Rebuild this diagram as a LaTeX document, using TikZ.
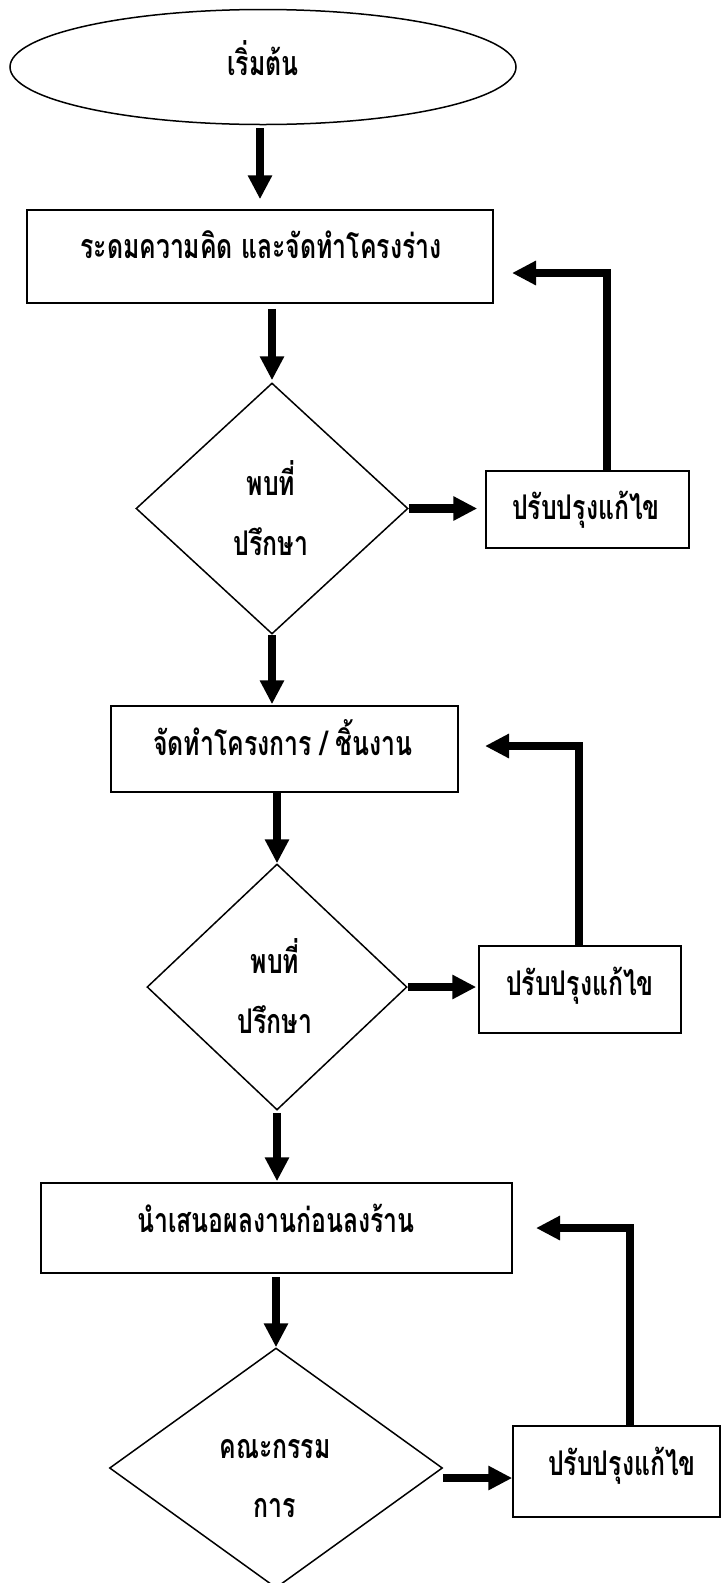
\documentclass[tikz,border=0pt]{standalone}
\usepackage{fontspec}
\newfontfamily\thaifont[Script=Thai,FakeStretch=0.73]{Loma}
\usetikzlibrary{shapes.geometric,arrows.meta}
\begin{document}
\begin{tikzpicture}[x=1pt,y=-1pt,
  shp/.style={draw,line width=1.5pt,inner sep=0pt},
  boxn/.style={shp,rectangle},
  dia/.style={shp,diamond},
  lbl/.style={font=\thaifont\bfseries\fontsize{34}{36}\selectfont,inner sep=0pt,anchor=base},
  arr/.style={line width=8.5pt,-{Triangle[length=24pt,width=23pt]},line join=miter}]
\useasboundingbox (0,0) rectangle (725,1583);
% shapes
\node[shp,ellipse,minimum width=506pt,minimum height=115pt] (start) at (263,67) {};
\node[boxn,minimum width=466pt,minimum height=93pt] (b1) at (260,256.5) {};
\node[dia,minimum width=272pt,minimum height=251pt] (d1) at (272,508.5) {};
\node[boxn,minimum width=203pt,minimum height=77pt] (p1) at (587.5,509.5) {};
\node[boxn,minimum width=347pt,minimum height=86pt] (b2) at (284.5,749) {};
\node[dia,minimum width=260pt,minimum height=246pt] (d2) at (277,987) {};
\node[boxn,minimum width=202pt,minimum height=87pt] (p2) at (580,989.5) {};
\node[boxn,minimum width=471pt,minimum height=90pt] (b3) at (276.5,1228) {};
\node[dia,minimum width=333pt,minimum height=240pt] (d3) at (276,1468) {};
\node[boxn,minimum width=207pt,minimum height=91pt] (p3) at (616.5,1471.5) {};
% labels
\node[lbl] (t0) at (263,75) {เริ่มต้น};
\node[lbl] (t1) at (261,258) {ระดมความคิด และจัดทำโครงร่าง};
\node[lbl] (t2a) at (271,495) {พบที่};
\node[lbl] (t2b) at (271,555) {ปรึกษา};
\node[lbl] (t3) at (586,519) {ปรับปรุงแก้ไข};
\node[lbl] (t4) at (283,755) {จัดทำโครงการ / ชิ้นงาน};
\node[lbl] (t5a) at (275,973) {พบที่};
\node[lbl] (t5b) at (275,1033) {ปรึกษา};
\node[lbl] (t6) at (580,995) {ปรับปรุงแก้ไข};
\node[lbl] (t7) at (276,1232) {นำเสนอผลงานก่อนลงร้าน};
\node[lbl] (t8a) at (275,1458) {คณะกรรม};
\node[lbl] (t8b) at (275,1517) {การ};
\node[lbl] (t9) at (622,1475) {ปรับปรุงแก้ไข};
% loop coordinates
\coordinate (v1) at (607,0);
\coordinate (r1) at (512,273);
\coordinate (v2) at (579,0);
\coordinate (r2) at (485,746);
\coordinate (v3) at (630,0);
\coordinate (r3) at (536,1228);
% main flow
\draw[arr,shorten <=3pt,shorten >=10pt] (b1.north |- start.south) -- (b1.north);
\draw[arr,shorten <=5pt,shorten >=2pt] (d1.north |- b1.south) -- (d1.north);
\draw[arr,shorten >=1pt] (d1.south) -- (d1.south |- b2.north);
\draw[arr] (d2.north |- b2.south) -- (d2.north);
\draw[arr,shorten <=2pt,shorten >=1pt] (d2.south) -- (d2.south |- b3.north);
\draw[arr,shorten <=3pt] (d3.north |- b3.south) -- (d3.north);
% to revise boxes
\draw[arr,shorten >=8pt] (d1.east) -- (d1.east -| p1.west);
\draw[arr,shorten >=2pt] (d2.east) -- (d2.east -| p2.west);
\draw[arr] ([yshift=-10pt]d3.east) -- ([yshift=-10pt]d3.east -| p3.west);
% loops back
\draw[arr] (p1.north -| v1) |- (r1);
\draw[arr] (p2.north -| v2) |- (r2);
\draw[arr] (p3.north -| v3) |- (r3);
\end{tikzpicture}
\end{document}
